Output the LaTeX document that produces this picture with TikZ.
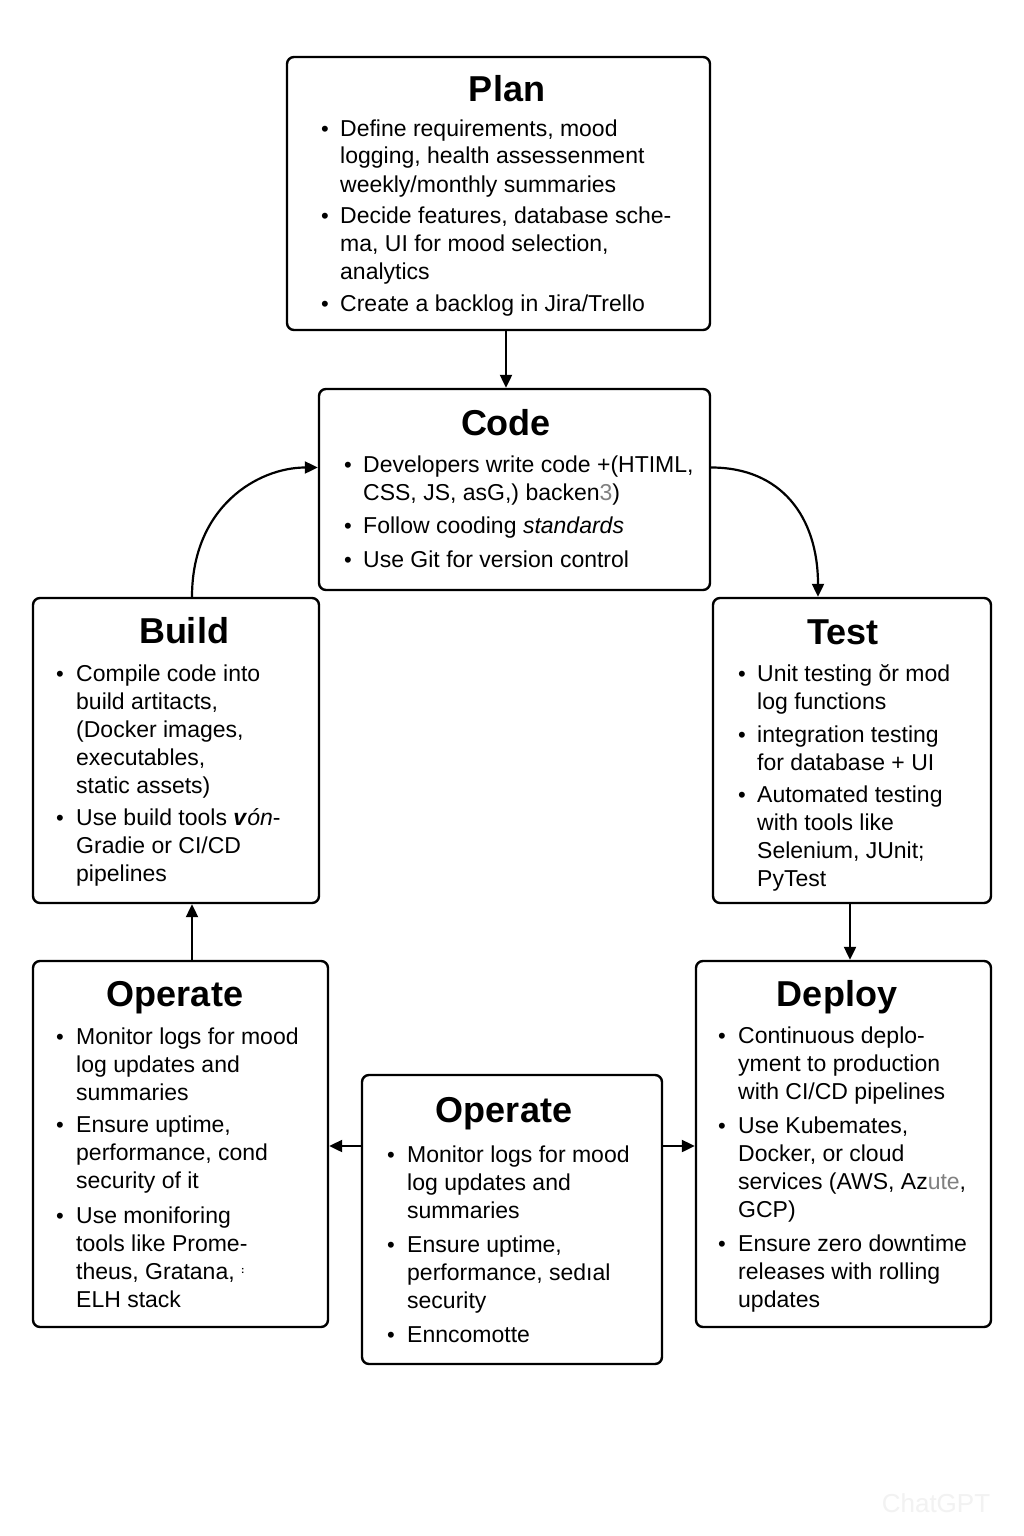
\documentclass[tikz,border=0pt]{standalone}
\usepackage{fontspec}
\setmainfont{Liberation Sans}
\usetikzlibrary{arrows.meta,calc}
\tikzset{
  stagebox/.style={draw=black, line width=2.4pt, rounded corners=7pt, inner sep=0pt, fill=white},
  stagetitle/.style={anchor=base, inner sep=0pt, font=\fontsize{36}{40}\selectfont\bfseries},
  bodytext/.style={anchor=base west, inner sep=0pt, font=\fontsize{23}{28}\selectfont},
  bulletdot/.style={anchor=base, inner sep=0pt, font=\fontsize{22}{28}\selectfont},
  flow/.style={line width=2.2pt, -{Triangle[length=13pt,width=12pt]}}
}
\newcommand\boxtitle[4]{\node[stagetitle] (#1) at (#2,#3) {#4};}
\newcommand\bodyline[4]{\node[bodytext] (#1) at (#2,#3) {#4};}
\newcommand\bulletmark[3]{\node[bulletdot] (#1) at (#2,#3) {•};}
\begin{document}
\begin{tikzpicture}[x=1pt,y=-1pt]
\path[fill=white] (0,0) rectangle (1024,1536);
\useasboundingbox (0,0) rectangle (1024,1536);

% boxes
\node[stagebox, minimum width=423pt, minimum height=273pt] (plan) at (498.5,193.5) {};
\node[stagebox, minimum width=391pt, minimum height=201pt] (code) at (514.5,489.5) {};
\node[stagebox, minimum width=286pt, minimum height=305pt] (build) at (176,750.5) {};
\node[stagebox, minimum width=278pt, minimum height=305pt] (test) at (852,750.5) {};
\node[stagebox, minimum width=295pt, minimum height=366pt] (opl) at (180.5,1144) {};
\node[stagebox, minimum width=300pt, minimum height=289pt] (opm) at (512,1219.5) {};
\node[stagebox, minimum width=295pt, minimum height=366pt] (deploy) at (843.5,1144) {};

% Plan
\boxtitle{planT}{507}{102}{Plan}
\bulletmark{planB1}{325}{136}
\bodyline{planL1}{340}{136}{Define requirements, mood}
\bodyline{planL2}{340}{164}{logging, health assessenment}
\bodyline{planL3}{340}{192}{weekly/monthly summaries}
\bulletmark{planB2}{325}{223}
\bodyline{planL4}{340}{223}{Decide features, database sche-}
\bodyline{planL5}{340}{251}{ma, UI for mood selection,}
\bodyline{planL6}{340}{279}{analytics}
\bulletmark{planB3}{325}{311}
\bodyline{planL7}{340}{311}{Create a backlog in Jira/Trello}

% Code
\boxtitle{codeT}{506}{435}{Code}
\bulletmark{codeB1}{348}{472}
\bodyline{codeL1}{363}{472}{Developers write code +(HTIML,}
\bodyline{codeL2}{363}{500}{CSS, JS, asG,) backen{\color{gray}3})}
\bulletmark{codeB2}{348}{533}
\bodyline{codeL3}{363}{533}{Follow cooding \textit{standards}}
\bulletmark{codeB3}{348}{567}
\bodyline{codeL4}{363}{567}{Use Git for version control}

% Build
\boxtitle{buildT}{184}{643}{Build}
\bulletmark{buildB1}{60}{681}
\bodyline{buildL1}{76}{681}{Compile code into}
\bodyline{buildL2}{76}{709}{build artitacts,}
\bodyline{buildL3}{76}{737}{(Docker images,}
\bodyline{buildL4}{76}{765}{executables,}
\bodyline{buildL5}{76}{793}{static assets)}
\bulletmark{buildB2}{60}{825}
\bodyline{buildL6}{76}{825}{Use build tools \textbf{\textit{v}}\textit{ón}-}
\bodyline{buildL7}{76}{853}{Gradie or CI/CD}
\bodyline{buildL8}{76}{881}{pipelines}

% Test
\boxtitle{testT}{843}{644}{Test}
\bulletmark{testB1}{742}{681}
\bodyline{testL1}{757}{681}{Unit testing ŏr mod}
\bodyline{testL2}{757}{709}{log functions}
\bulletmark{testB2}{742}{742}
\bodyline{testL3}{757}{742}{integration testing}
\bodyline{testL4}{757}{770}{for database + UI}
\bulletmark{testB3}{742}{802}
\bodyline{testL5}{757}{802}{Automated testing}
\bodyline{testL6}{757}{830}{with tools like}
\bodyline{testL7}{757}{858}{Selenium, JUnit;}
\bodyline{testL8}{757}{886}{PyTest}

% Operate (left)
\boxtitle{oplT}{175}{1006}{Operate}
\bulletmark{oplB1}{60}{1044}
\bodyline{oplL1}{76}{1044}{Monitor logs for mood}
\bodyline{oplL2}{76}{1072}{log updates and}
\bodyline{oplL3}{76}{1100}{summaries}
\bulletmark{oplB2}{60}{1132}
\bodyline{oplL4}{76}{1132}{Ensure uptime,}
\bodyline{oplL5}{76}{1160}{performance, cond}
\bodyline{oplL6}{76}{1188}{security of it}
\bulletmark{oplB3}{60}{1223}
\bodyline{oplL7}{76}{1223}{Use moniforing}
\bodyline{oplL8}{76}{1251}{tools like Prome-}
\bodyline{oplL9}{76}{1279}{theus, Gratana, \raisebox{6pt}{\fontsize{10}{10}\selectfont\bfseries :}}
\bodyline{oplL10}{76}{1307}{ELH stack}

% Operate (middle)
\boxtitle{opmT}{504}{1122}{Operate}
\bulletmark{opmB1}{391}{1162}
\bodyline{opmL1}{407}{1162}{Monitor logs for mood}
\bodyline{opmL2}{407}{1190}{log updates and}
\bodyline{opmL3}{407}{1218}{summaries}
\bulletmark{opmB2}{391}{1252}
\bodyline{opmL4}{407}{1252}{Ensure uptime,}
\bodyline{opmL5}{407}{1280}{performance, sedıal}
\bodyline{opmL6}{407}{1308}{security}
\bulletmark{opmB3}{391}{1342}
\bodyline{opmL7}{407}{1342}{Enncomotte}

% Deploy
\boxtitle{deployT}{837}{1006}{Deploy}
\bulletmark{depB1}{722}{1043}
\bodyline{depL1}{738}{1043}{Continuous deplo-}
\bodyline{depL2}{738}{1071}{yment to production}
\bodyline{depL3}{738}{1099}{with CI/CD pipelines}
\bulletmark{depB2}{722}{1133}
\bodyline{depL4}{738}{1133}{Use Kubemates,}
\bodyline{depL5}{738}{1161}{Docker, or cloud}
\bodyline{depL6}{738}{1189}{services (AWS, Az{\color{gray}ute},}
\bodyline{depL7}{738}{1217}{GCP)}
\bulletmark{depB3}{722}{1251}
\bodyline{depL8}{738}{1251}{Ensure zero downtime}
\bodyline{depL9}{738}{1279}{releases with rolling}
\bodyline{depL10}{738}{1307}{updates}

% connectors
\draw[flow] ([xshift=7.5pt]plan.south) -- ([xshift=7.5pt]plan.south |- code.north);
\draw[flow] ([yshift=22pt]code.east) .. controls +(70,0) and +(0,-80) .. ([xshift=-34pt]test.north);
\draw[flow] ([xshift=16pt]build.north) .. controls +(0,-90) and +(-60,0) .. ([yshift=22pt]code.west);
\draw[flow] ([xshift=-2pt]test.south) -- ([xshift=-2pt]test.south |- deploy.north);
\draw[flow] ([xshift=11.5pt]opl.north) -- ([xshift=11.5pt]opl.north |- build.south);
\draw[flow] ([yshift=73.5pt]opm.west) -- ([yshift=73.5pt]opm.west -| opl.east);
\draw[flow] ([yshift=73.5pt]opm.east) -- ([yshift=73.5pt]opm.east -| deploy.west);

% faint watermark
\node[anchor=base, inner sep=0pt, font=\fontsize{26}{30}\selectfont, text=gray!10] (wm) at (936,1512) {ChatGPT};
\end{tikzpicture}
\end{document}
